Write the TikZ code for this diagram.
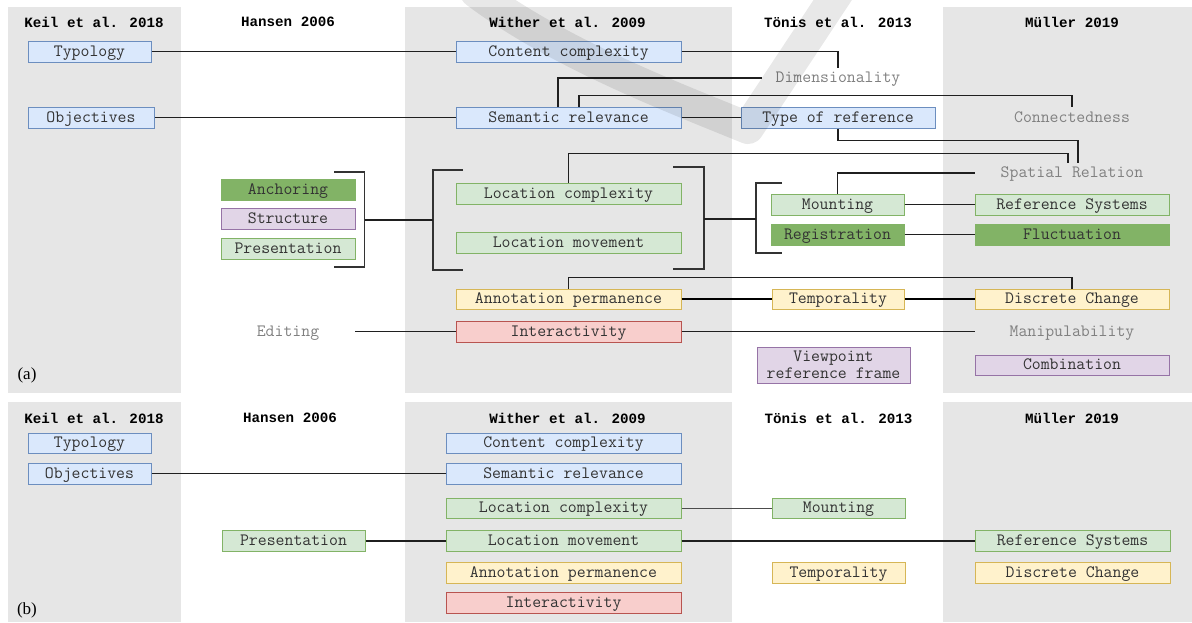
\documentclass[tikz,border=0pt]{standalone}
\usepackage{fontspec}
\newfontfamily\hdrfam{Liberation Mono}
\newfontfamily\lblfam{Liberation Serif}
\newcommand\bxf{\ttfamily\fontsize{17.3}{17}\selectfont}
\newcommand\hdf{\hdrfam\bfseries\fontsize{14.2}{16}\selectfont}
\definecolor{colgray}{HTML}{E6E6E6}
\definecolor{bfill}{HTML}{DAE8FC}\definecolor{bdraw}{HTML}{6C8EBF}
\definecolor{gfill}{HTML}{D5E8D4}\definecolor{gdraw}{HTML}{82B366}
\definecolor{dgfill}{HTML}{82B366}
\definecolor{pfill}{HTML}{E1D5E7}\definecolor{pdraw}{HTML}{9673A6}
\definecolor{yfill}{HTML}{FFF2CC}\definecolor{ydraw}{HTML}{D6B656}
\definecolor{rfill}{HTML}{F8CECC}\definecolor{rdraw}{HTML}{B85450}
\definecolor{txt}{HTML}{333333}
\definecolor{ghosttxt}{HTML}{808080}
\begin{document}
\begin{tikzpicture}[x=1pt,y=-1pt,
  boxbase/.style={draw, line width=1pt, inner sep=0pt, font=\bxf, text=txt},
  one/.style={text height=11pt, text depth=2pt},
  bluebox/.style={boxbase, one, fill=bfill, draw=bdraw},
  greenbox/.style={boxbase, one, fill=gfill, draw=gdraw},
  dgreenbox/.style={boxbase, one, fill=dgfill, draw=dgfill},
  purplebox/.style={boxbase, one, fill=pfill, draw=pdraw},
  yellowbox/.style={boxbase, one, fill=yfill, draw=ydraw},
  redbox/.style={boxbase, one, fill=rfill, draw=rdraw},
  ghost/.style={inner sep=0pt, font=\bxf, text=ghosttxt, one},
  hdr/.style={inner sep=0pt, font=\hdf, text=black},
  lbl/.style={inner sep=0pt, font=\lblfam\fontsize{17}{19}\selectfont},
  ln/.style={draw=black!88, line width=1.2pt},
  lnthin/.style={draw=black!70, line width=1pt},
  thk/.style={draw=black, line width=2.4pt},
  brk/.style={draw=black!80, line width=1.2pt},
  wmark/.style={draw=black, opacity=0.09, line width=32pt, line cap=round, line join=round}
]
\useasboundingbox (0,0) rectangle (1192,622);
% column backgrounds
\fill[colgray] (7.5,7) rectangle (181,393);
\fill[colgray] (405,7) rectangle (732,393);
\fill[colgray] (943,7) rectangle (1192,393);
\fill[colgray] (7.5,402) rectangle (181,622);
\fill[colgray] (405,402) rectangle (732,622);
\fill[colgray] (943,402) rectangle (1192,622);

% ---------- panel (a) ----------
\node[hdr] (ha1) at (94,22) {Keil et al. 2018};
\node[hdr] (ha2) at (288,22) {Hansen 2006};
\node[hdr] (ha3) at (567.5,22) {Wither et al. 2009};
\node[hdr] (ha4) at (838,22) {Tönis et al. 2013};
\node[hdr] (ha5) at (1072,22) {Müller 2019};

\node[bluebox, minimum width=123pt, minimum height=21pt] (typo) at (89.5,51.5) {Typology};
\node[bluebox, minimum width=126pt, minimum height=21pt] (obj) at (91,117.5) {Objectives};
\node[bluebox, minimum width=225pt, minimum height=21pt] (cc) at (568.5,51.5) {Content complexity};
\node[bluebox, minimum width=225pt, minimum height=21pt] (sr) at (568.5,117.5) {Semantic relevance};
\node[bluebox, minimum width=194pt, minimum height=21pt] (tor) at (838,117.5) {Type of reference};

\node[ghost, minimum width=152pt, minimum height=20pt] (dim) at (838,78) {Dimensionality};
\node[ghost, minimum width=194pt, minimum height=21pt] (conn) at (1072,117.5) {Connectedness};
\node[ghost, minimum width=194pt, minimum height=20pt] (spat) at (1072,173) {Spatial Relation};
\node[ghost, minimum width=134pt, minimum height=21pt] (edit) at (288,331.5) {Editing};
\node[ghost, minimum width=194pt, minimum height=21pt] (manip) at (1072,331.5) {Manipulability};

\node[dgreenbox, minimum width=134pt, minimum height=21pt] (anch) at (288,190) {Anchoring};
\node[purplebox, minimum width=134pt, minimum height=21pt] (struct) at (288,218.5) {Structure};
\node[greenbox, minimum width=134pt, minimum height=21pt] (pres) at (288,248.5) {Presentation};

\node[greenbox, minimum width=225pt, minimum height=21pt] (lc) at (568.5,193.5) {Location complexity};
\node[greenbox, minimum width=225pt, minimum height=21pt] (lm) at (568.5,242.5) {Location movement};

\node[greenbox, minimum width=133pt, minimum height=21pt] (mount) at (837.5,204.5) {Mounting};
\node[dgreenbox, minimum width=133pt, minimum height=21pt] (reg) at (837.5,234.5) {Registration};
\node[greenbox, minimum width=194pt, minimum height=21pt] (refsys) at (1072,204.5) {Reference Systems};
\node[dgreenbox, minimum width=194pt, minimum height=21pt] (fluct) at (1072,234.5) {Fluctuation};

\node[yellowbox, minimum width=225pt, minimum height=20pt] (ap) at (568.5,299) {Annotation permanence};
\node[yellowbox, minimum width=132pt, minimum height=20pt] (temp) at (838,299) {Temporality};
\node[yellowbox, minimum width=194pt, minimum height=20pt] (dc) at (1072,299) {Discrete Change};

\node[redbox, minimum width=225pt, minimum height=21pt] (inter) at (568.5,331.5) {Interactivity};

\node[boxbase, fill=pfill, draw=pdraw, align=center, minimum width=153pt, minimum height=36pt] (vrf) at (833.5,365) {Viewpoint\\reference frame};
\node[purplebox, minimum width=194pt, minimum height=20pt] (comb) at (1072,365) {Combination};

\node[lbl] (la) at (27,375) {(a)};

% bracket coordinates
\coordinate (hbT) at (334,172); \coordinate (hbM) at (364.5,220); \coordinate (hbB) at (334,267);
\coordinate (wlT) at (463,170); \coordinate (wlM) at (433,220); \coordinate (wlB) at (463,270);
\coordinate (wrT) at (673,167); \coordinate (wrM) at (704,219); \coordinate (wrB) at (673,269);
\coordinate (tbT) at (782,183); \coordinate (tbM) at (756,219); \coordinate (tbB) at (782,253);

\draw[brk] (hbT) -| (hbM) |- (hbB);
\draw[brk] (wlT) -| (wlM) |- (wlB);
\draw[brk] (wrT) -| (wrM) |- (wrB);
\draw[brk] (tbT) -| (tbM) |- (tbB);
\draw[ln] (hbM) -- (wlM);
\draw[ln] (wrM) -- (tbM);

% connectors (a)
\draw[ln] (typo) -- (cc);
\draw[ln] (cc.east) -| (dim.north);
\draw[ln] ([xshift=-10.5pt]sr.north) |- (dim.west);
\draw[ln] ([xshift=10.5pt]sr.north) -- ++(0,-11) -| (conn.north);
\draw[ln] (obj) -- (sr);
\draw[ln] (sr) -- (tor);
\draw[ln] (tor.south) -- ++(0,12) -| ([xshift=6pt]spat.north);
\draw[ln] (lc.north) -- ++(0,-29) -| ([xshift=-4pt]spat.north);
\draw[ln] (mount.north) |- (spat.west);
\draw[ln] (mount) -- (refsys);
\draw[ln] (reg) -- (fluct);
\draw[ln] (ap.north) -- ++(0,-11) -| (dc.north);
\draw[thk] (ap) -- (temp);
\draw[thk] (temp) -- (dc);
\draw[ln] (edit) -- (inter);
\draw[ln] (inter) -- (manip);

% ---------- panel (b) ----------
\node[hdr] (hb1) at (94,418) {Keil et al. 2018};
\node[hdr] (hb2) at (290,418) {Hansen 2006};
\node[hdr] (hb3) at (567.5,418) {Wither et al. 2009};
\node[hdr] (hb4) at (838.5,418) {Tönis et al. 2013};
\node[hdr] (hb5) at (1072,418) {Müller 2019};

\node[bluebox, minimum width=123pt, minimum height=20pt] (typo2) at (89.5,443) {Typology};
\node[bluebox, minimum width=123pt, minimum height=21pt] (obj2) at (89.5,473.5) {Objectives};
\node[bluebox, minimum width=235pt, minimum height=20pt] (cc2) at (563.5,443) {Content complexity};
\node[bluebox, minimum width=235pt, minimum height=21pt] (sr2) at (563.5,473.5) {Semantic relevance};
\node[greenbox, minimum width=235pt, minimum height=20pt] (lc2) at (563.5,508) {Location complexity};
\node[greenbox, minimum width=235pt, minimum height=21pt] (lm2) at (563.5,541) {Location movement};
\node[yellowbox, minimum width=235pt, minimum height=21pt] (ap2) at (563.5,572.5) {Annotation permanence};
\node[redbox, minimum width=235pt, minimum height=21pt] (inter2) at (563.5,602.5) {Interactivity};
\node[greenbox, minimum width=143pt, minimum height=21pt] (pres2) at (293.5,541) {Presentation};
\node[greenbox, minimum width=133pt, minimum height=20pt] (mount2) at (838.5,508) {Mounting};
\node[yellowbox, minimum width=133pt, minimum height=21pt] (temp2) at (838.5,572.5) {Temporality};
\node[greenbox, minimum width=195pt, minimum height=21pt] (refsys2) at (1072.5,541) {Reference Systems};
\node[yellowbox, minimum width=195pt, minimum height=21pt] (dc2) at (1072.5,572.5) {Discrete Change};

\node[lbl] (lb) at (27,610) {(b)};

\draw[ln] (obj2) -- (sr2);
\draw[ln] (pres2) -- (lm2);
\draw[lnthin] (lc2) -- (mount2);
\draw[ln] (lm2) -- (refsys2);

% faint watermark stroke
\draw[wmark] (476,-8) .. controls (560,55) and (680,100) .. (748,128) -- (838,-8);
\end{tikzpicture}
\end{document}
